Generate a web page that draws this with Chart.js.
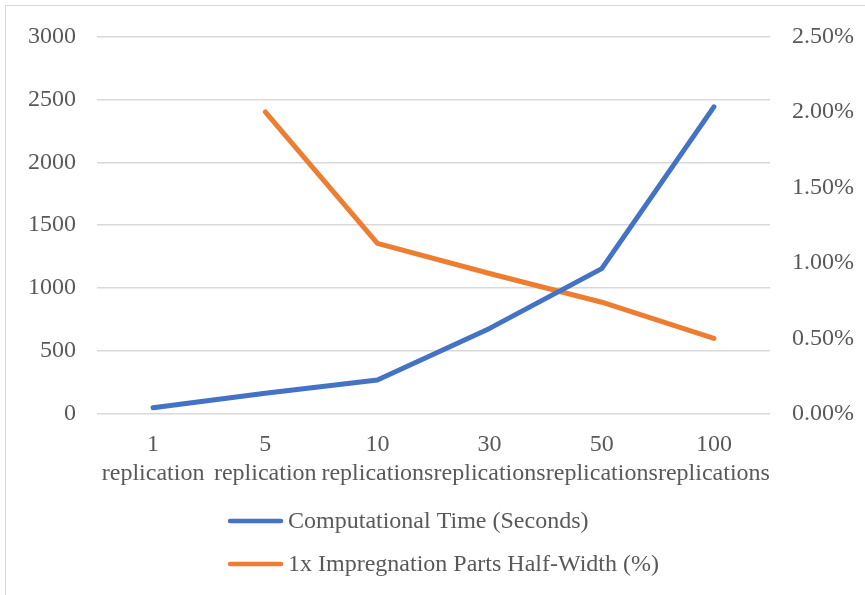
<!DOCTYPE html>
<html>
<head>
<meta charset="utf-8">
<script src="https://cdn.jsdelivr.net/npm/chart.js@4/dist/chart.umd.min.js"></script>
<style>
  html, body { margin: 0; padding: 0; background: #fff; overflow: hidden; }
  #frame {
    position: absolute; left: 5px; top: 5px; width: 880px; height: 600px;
    border-left: 1px solid #d9d9d9; border-top: 1px solid #d9d9d9;
  }
  #chart { position: absolute; left: 0; top: 0; }
</style>
</head>
<body>
<div id="frame"></div>
<canvas id="chart" width="865" height="595"></canvas>
<script>
// Replication counts and their unit words (two-line category labels)
const replicationCounts = ["1", "5", "10", "30", "50", "100"];
const replicationUnits = ["replication", "replication", "replications", "replications", "replications", "replications"];

// Computational time in seconds (left axis)
const computationalTime = [50, 165, 270, 680, 1155, 2440];

// Half-width in percent (right axis); no value for a single replication
const halfWidthPct = [null, 2.00, 1.13, 0.93, 0.74, 0.50];

// Axis tick settings
const timeTicks = { min: 0, max: 3000, step: 500 };
const pctTicks = { min: 0, max: 2.5, step: 0.5 };

const seriesNames = ["Computational Time (Seconds)", "1x Impregnation Parts Half-Width (%)"];

const labels = replicationCounts.map((c, i) => [c, replicationUnits[i]]);
const textColor = "#595959";
const fontSize = 24;

// Pick the first installed serif face from a list of Times-like families
function pickSerif(candidates) {
  const ctx = document.createElement("canvas").getContext("2d");
  const sample = "replications Impregnation 0123456789 %()";
  const width = f => { ctx.font = "40px " + f; return ctx.measureText(sample).width; };
  const mono = width("monospace"), sans = width("sans-serif");
  for (const name of candidates) {
    const q = '"' + name + '"';
    if (width(q + ", monospace") !== mono && width(q + ", sans-serif") !== sans) return q;
  }
  return "serif";
}
const fontFamily = pickSerif(["Liberation Serif", "Tinos", "Times New Roman", "Nimbus Roman", "FreeSerif", "Noto Serif", "DejaVu Serif"]) + ", serif";

// Stacked legend drawn below the plot, entries left-aligned in a centred block
const stackedLegend = {
  id: "stackedLegend",
  afterDraw(chart) {
    const ctx = chart.ctx;
    ctx.save();
    ctx.font = fontSize + "px " + fontFamily;
    const lineLen = 55, gap = 5;
    const widths = chart.data.datasets.map(d => ctx.measureText(d.label).width);
    const blockW = lineLen + gap + Math.max(...widths);
    const area = chart.chartArea;
    const x0 = (area.left + area.right) / 2 + 10 - blockW / 2;
    const rows = [521, 564];
    chart.data.datasets.forEach((d, i) => {
      const y = rows[i];
      ctx.strokeStyle = d.borderColor;
      ctx.lineWidth = 4.5;
      ctx.lineCap = "round";
      ctx.beginPath();
      ctx.moveTo(x0 + 2, y);
      ctx.lineTo(x0 + lineLen - 2, y);
      ctx.stroke();
      ctx.fillStyle = textColor;
      ctx.textBaseline = "middle";
      ctx.textAlign = "left";
      ctx.fillText(d.label, x0 + lineLen + gap, y + 1);
    });
    ctx.restore();
  }
};

new Chart(document.getElementById("chart"), {
  type: "line",
  data: {
    labels: labels,
    datasets: [
      {
        label: seriesNames[0],
        data: computationalTime,
        yAxisID: "yTime",
        borderColor: "#4472C4",
        backgroundColor: "#4472C4",
        borderWidth: 5,
        borderCapStyle: "round",
        borderJoinStyle: "round",
        pointRadius: 0,
        tension: 0
      },
      {
        label: seriesNames[1],
        data: halfWidthPct,
        yAxisID: "yPct",
        borderColor: "#ED7D31",
        backgroundColor: "#ED7D31",
        borderWidth: 5,
        borderCapStyle: "round",
        borderJoinStyle: "round",
        pointRadius: 0,
        tension: 0
      }
    ]
  },
  options: {
    responsive: false,
    animation: false,
    devicePixelRatio: 1,
    layout: { padding: { top: 34, bottom: 100, left: 0, right: 0 } },
    plugins: { legend: { display: false }, tooltip: { enabled: false } },
    scales: {
      x: {
        offset: true,
        grid: { display: false, drawTicks: false },
        border: { display: false },
        ticks: {
          color: textColor,
          font: { family: fontFamily, size: fontSize, lineHeight: 1.22 },
          padding: 16,
          maxRotation: 0,
          minRotation: 0,
          autoSkip: false
        },
        afterFit(scale) { scale.height = 81; }
      },
      yTime: {
        position: "left",
        min: timeTicks.min,
        max: timeTicks.max,
        grid: { color: "#d9d9d9", lineWidth: 1.5, drawTicks: false },
        border: { display: false },
        ticks: {
          stepSize: timeTicks.step,
          color: textColor,
          font: { family: fontFamily, size: fontSize },
          padding: 21,
          callback: v => String(v)
        },
        afterFit(scale) { scale.width = 97; }
      },
      yPct: {
        position: "right",
        min: pctTicks.min,
        max: pctTicks.max,
        grid: { drawOnChartArea: false, drawTicks: false },
        border: { display: false },
        ticks: {
          stepSize: pctTicks.step,
          color: textColor,
          font: { family: fontFamily, size: fontSize },
          padding: 22,
          callback: v => v.toFixed(2) + "%"
        },
        afterFit(scale) { scale.width = 95; }
      }
    }
  },
  plugins: [stackedLegend]
});
</script>
</body>
</html>
